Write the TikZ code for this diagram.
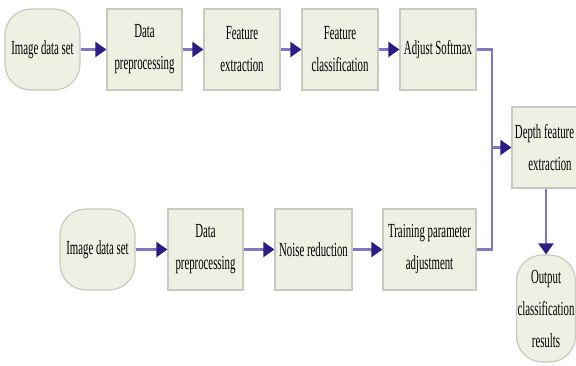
\documentclass[tikz,border=0pt]{standalone}
\usepackage{fontspec}
\setmainfont{Liberation Serif}[FakeStretch=0.54]
\usepackage{tikz}
\usetikzlibrary{arrows.meta,positioning,calc}

\definecolor{boxfill}{HTML}{EFEFE4}
\definecolor{boxline}{HTML}{C8C9BF}
\definecolor{flowline}{HTML}{8275C2}
\definecolor{flowtip}{HTML}{2B1C86}

\tikzset{
  stagebox/.style={rectangle, draw=boxline, fill=boxfill, line width=1.2pt,
    minimum height=81pt, inner sep=1pt, align=center,
    font=\fontsize{20}{32}\selectfont, text=black},
  endbox/.style={stagebox, rounded corners=26pt},
  flow/.style={draw=flowline, line width=2.2pt,
    -{Triangle[color=flowtip, length=11pt, width=15pt]}},
  link/.style={draw=flowline, line width=2.2pt}
}

\begin{document}
\begin{tikzpicture}[x=1pt, y=-1pt]
\useasboundingbox (0,0) rectangle (576,365);

% upper row
\node[endbox, minimum width=75pt] (img1) at (42.5,49.5) {Image data set};
\node[stagebox, minimum width=75pt] (pre1) at (144.5,49.5) {Data\\preprocessing};
\node[stagebox, minimum width=76pt] (fext) at (242,49.5) {Feature\\extraction};
\node[stagebox, minimum width=76pt] (fcls) at (340,49.5) {Feature\\classification};
\node[stagebox, minimum width=76pt] (soft) at (438,49.5) {Adjust Softmax};

% lower row
\node[endbox, minimum width=75pt] (img2) at (97.5,249.5) {Image data set};
\node[stagebox, minimum width=75pt] (pre2) at (205.5,249.5) {Data\\preprocessing};
\node[stagebox, minimum width=77pt] (noise) at (313.5,249.5) {Noise reduction};
\node[stagebox, minimum width=93pt] (train) at (429.5,249.5) {Training parameter\\adjustment};

% right column
\node[stagebox, minimum width=76pt] (depth) at (550,147.5) {\hspace*{-11pt}Depth feature\\extraction};
\node[endbox, minimum width=58pt, minimum height=107pt] (out) at (546,308.5) {Output\\classification\\results};

\coordinate (join) at (492,147.5);

\draw[flow] (img1) -- (pre1);
\draw[flow] (pre1) -- (fext);
\draw[flow] (fext) -- (fcls);
\draw[flow] (fcls) -- (soft);

\draw[flow] (img2) -- (pre2);
\draw[flow] (pre2) -- (noise);
\draw[flow] (noise) -- (train);

\draw[link] (soft.east) -| (join);
\draw[link] (train.east) -| (join);
\draw[flow] (join) -- (depth.west);
\draw[flow] (out.north |- depth.south) -- (out.north);

\end{tikzpicture}
\end{document}
